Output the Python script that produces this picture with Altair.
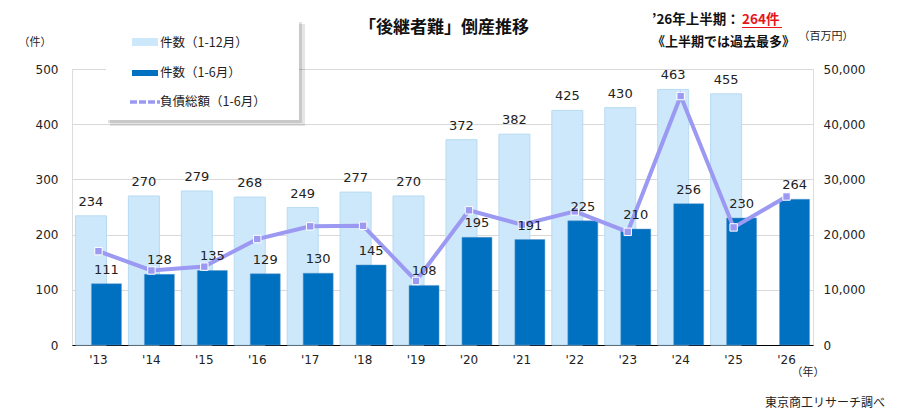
import altair as alt
import pandas as pd

# Yearly figures: bankruptcies caused by successor shortage
years = ["'13", "'14", "'15", "'16", "'17", "'18", "'19",
         "'20", "'21", "'22", "'23", "'24", "'25", "'26"]
cases_full_year = [234, 270, 279, 268, 249, 277, 270,
                   372, 382, 425, 430, 463, 455, None]
cases_first_half = [111, 128, 135, 129, 130, 145, 108,
                    195, 191, 225, 210, 256, 230, 264]
debt_first_half = [17000, 13500, 14200, 19200, 21500, 21600, 11600,
                   24400, 21800, 24200, 20500, 45100, 21300, 26900]

legend_labels = ["件数（1-12月）", "件数（1-6月）", "負債総額（1-6月）"]

LIGHT = "#CCE8FA"
DARK = "#0070C0"
LINE = "#9B99F2"
NUM_FONT = "DejaVu Sans"
JP_FONT = "Noto Sans CJK JP"

df = pd.DataFrame({
    "year": years,
    "full": cases_full_year,
    "half": cases_first_half,
    "debt": debt_first_half,
})

x_enc = alt.X(
    "year:N", sort=years,
    scale=alt.Scale(paddingInner=0, paddingOuter=0),
    axis=alt.Axis(title=None, labelAngle=0, labelFont=NUM_FONT, labelFontSize=12,
                  labelColor="#222", labelPadding=9, ticks=False,
                  domainColor="#000", domainWidth=1),
)

base = alt.Chart(df).encode(x=x_enc)
count_scale = alt.Scale(domain=[0, 500])
debt_scale = alt.Scale(domain=[0, 50000])
# the right axis spans 100x the left one, so counts map onto it as count * 100
COUNT_TO_DEBT = 100

left_axis = alt.Axis(title=None, values=[0, 100, 200, 300, 400, 500],
                     grid=True, gridColor="#D9D9D9", domain=False, ticks=False,
                     labelFont=NUM_FONT, labelFontSize=12, labelColor="#222",
                     labelPadding=14)
right_axis = alt.Axis(title=None, orient="right",
                      values=[0, 10000, 20000, 30000, 40000, 50000],
                      format=",d", grid=False, domain=False, ticks=False,
                      labelFont=NUM_FONT, labelFontSize=12, labelColor="#222",
                      labelPadding=10)

light = base.transform_filter("datum.full != null").mark_bar(
    width=31, xOffset=-7.5, color=LIGHT, stroke="#B8DBF2", strokeWidth=1
).encode(y=alt.Y("full:Q", scale=count_scale, axis=left_axis))
dark = base.mark_bar(width=30, xOffset=8, color=DARK, stroke="#5E9BD0", strokeWidth=0.5).encode(
    y=alt.Y("half:Q", scale=count_scale)
)

debt_line = base.mark_line(color=LINE, strokeWidth=4).encode(
    y=alt.Y("debt:Q", scale=debt_scale, axis=right_axis))
debt_pts = base.mark_point(shape="square", filled=True, size=55, fill=LINE,
                           stroke="white", strokeWidth=1, opacity=1).encode(
    y=alt.Y("debt:Q", scale=debt_scale))

# value labels drawn above the line
light_txt = base.transform_filter("datum.full != null").transform_calculate(
    pos=f"datum.full * {COUNT_TO_DEBT}"
).mark_text(
    xOffset=-7.5, dy=-14, fontSize=13, font=NUM_FONT, color="#222", baseline="middle"
).encode(y=alt.Y("pos:Q", scale=debt_scale), text="full:Q")
dark_txt = base.transform_calculate(
    pos=f"datum.half * {COUNT_TO_DEBT}"
).mark_text(
    xOffset=8, dy=-14, fontSize=13, font=NUM_FONT, color="#222", baseline="middle"
).encode(y=alt.Y("pos:Q", scale=debt_scale), text="half:Q")

count_group = alt.layer(light, dark)
debt_group = alt.layer(debt_line, debt_pts, light_txt, dark_txt)
plot = alt.layer(count_group, debt_group).resolve_scale(y="independent")

one = pd.DataFrame({"k": [0]})


def txt(s, x, y, size=12, bold=False, color="#222", align="left", font=JP_FONT):
    return alt.Chart(one).mark_text(
        text=s, fontSize=size, fontWeight="bold" if bold else "normal",
        color=color, align=align, baseline="middle", font=font
    ).encode(x=alt.value(x), y=alt.value(y))


def box(x1, x2, y1, y2, color, opacity=1.0):
    return alt.Chart(one).mark_rect(color=color, opacity=opacity).encode(
        x=alt.value(x1), x2=alt.value(x2), y=alt.value(y1), y2=alt.value(y2))


# Plot-area origin is at (72, 69); decoration coordinates are relative to it.
OX, OY = 72, 69

legend_parts = [
    box(110 - OX, 305 - OX, 24 - OY, 126 - OY, "#000", 0.10),
    box(108 - OX, 302 - OX, 22 - OY, 123 - OY, "#000", 0.12),
    box(106 - OX, 299 - OX, 20 - OY, 120 - OY, "white"),
    box(132 - OX, 158 - OX, 38 - OY, 46 - OY, LIGHT),
    box(132 - OX, 158 - OX, 70 - OY, 76 - OY, DARK),
    alt.Chart(one).mark_rule(color=LINE, strokeWidth=3.5, strokeDash=[7, 2]).encode(
        x=alt.value(130 - OX), x2=alt.value(160 - OX), y=alt.value(102 - OY)),
    txt(legend_labels[0], 160 - OX, 43 - OY, 12.5),
    txt(legend_labels[1], 160 - OX, 73 - OY, 12.5),
    txt(legend_labels[2], 160 - OX, 102 - OY, 12.5),
]

notes = [
    txt("「後継者難」倒産推移", 444 - OX, 28 - OY, 17, bold=True, color="#111", align="center"),
    txt("’26年上半期：", 652 - OX, 20 - OY, 13.5, bold=True, color="#111"),
    txt("264件", 742 - OX, 20 - OY, 13.5, bold=True, color="#E8141B"),
    alt.Chart(one).mark_rule(color="#E8141B", strokeWidth=1.2).encode(
        x=alt.value(742 - OX), x2=alt.value(782 - OX), y=alt.value(27.5 - OY)),
    txt("《上半期では過去最多》", 652 - OX, 42 - OY, 13, bold=True, color="#111"),
    txt("（件）", 35 - OX, 43 - OY, 11, align="center"),
    txt("（百万円）", 826 - OX, 37 - OY, 11, align="center"),
    txt("（年）", 808 - OX, 373 - OY, 11, align="center"),
    txt("東京商工リサーチ調べ", 885 - OX, 403 - OY, 12, align="right"),
]

chart = alt.layer(
    plot, *legend_parts, *notes
).properties(
    width=741, height=276,
    autosize=alt.AutoSizeParams(type="none"),
    padding={"left": OX, "top": OY, "right": 906 - OX - 741, "bottom": 420 - OY - 276},
).configure_view(stroke=None).configure(background="white")

chart.save("out.html", embed_options={"renderer": "svg", "actions": False})
